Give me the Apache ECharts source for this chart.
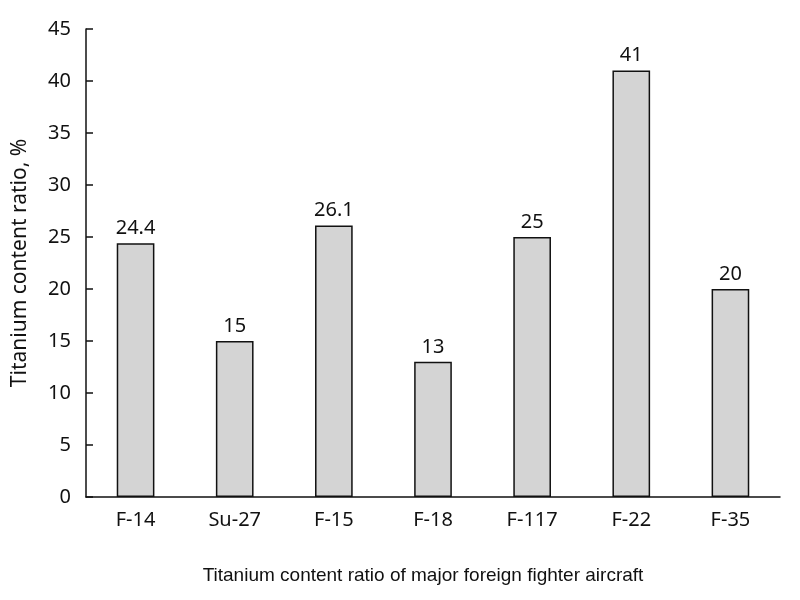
<!DOCTYPE html>
<html><head><meta charset="utf-8">
<script src="https://cdn.jsdelivr.net/npm/echarts@6/dist/echarts.min.js"></script>
<style>html,body{margin:0;padding:0;background:#fff}#c{width:800px;height:600px}</style>
</head><body><div id="c"></div>
<script>
const categories = ['F-14','Su-27','F-15','F-18','F-117','F-22','F-35'];
const values = [24.4, 15, 26.1, 13, 25, 41, 20];
const yTicks = {min: 0, max: 45, interval: 5};
const chart = echarts.init(document.getElementById('c'));
chart.setOption({
  animation: false,
  backgroundColor: '#fff',
  title: {
    text: 'Titanium content ratio of major foreign fighter aircraft',
    left: 418, top: 561, textAlign: 'center',
    textStyle: {fontFamily: 'Liberation Sans', fontSize: 19, fontWeight: 'normal', color: '#111'}
  },
  grid: {left: 86, right: 20, top: 29, bottom: 103},
  xAxis: {
    type: 'category', data: categories,
    axisLine: {lineStyle: {color: '#111', width: 1.5}},
    axisTick: {show: false},
    axisLabel: {fontFamily: 'Noto Sans', fontSize: 20, color: '#111', margin: 13}
  },
  yAxis: {
    type: 'value', min: yTicks.min, max: yTicks.max, interval: yTicks.interval,
    name: 'Titanium content ratio, %', nameLocation: 'middle', nameGap: 55,
    nameTextStyle: {fontFamily: 'Noto Sans', fontSize: 21, color: '#111'},
    axisLine: {show: true, lineStyle: {color: '#111', width: 1.5}},
    axisTick: {show: true, inside: true, length: 7, lineStyle: {color: '#111', width: 1.5}},
    splitLine: {show: false},
    axisLabel: {fontFamily: 'Noto Sans', fontSize: 20, color: '#111', margin: 15}
  },
  series: [{
    type: 'bar', data: values, barWidth: '38%',
    itemStyle: {color: '#d4d4d4', borderColor: '#111', borderWidth: 1.5},
    label: {show: true, position: 'top', distance: 5, fontFamily: 'Noto Sans', fontSize: 20, color: '#111'}
  }]
});
</script></body></html>
